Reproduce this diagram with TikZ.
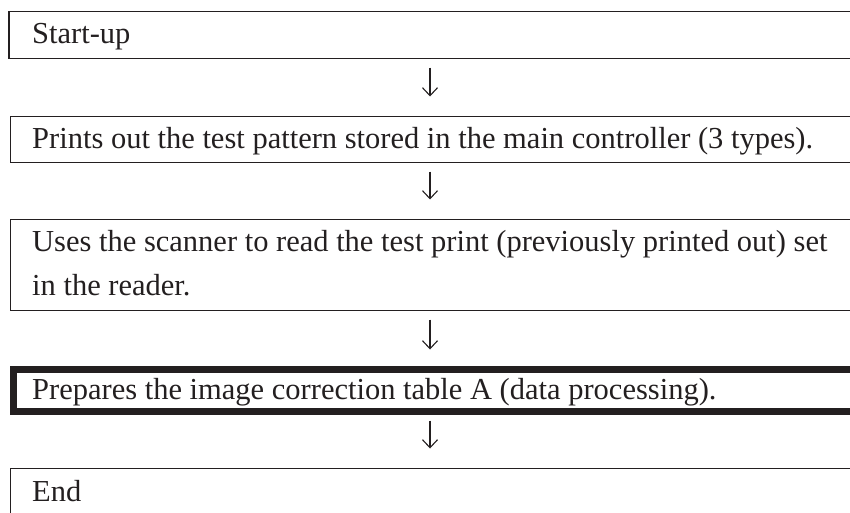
\documentclass[tikz,border=0pt]{standalone}
\usepackage{fontspec}
\setmainfont{Liberation Serif}
\usetikzlibrary{arrows.meta}
\definecolor{ink}{HTML}{231F20}
\begin{document}
\begin{tikzpicture}[x=1pt,y=1pt,
  box/.style={draw=ink, line width=1.3pt, inner sep=0pt, outer sep=0pt, anchor=north west, minimum width=880pt},
  thickbox/.style={box, line width=7pt},
  txt/.style={anchor=base west, inner sep=0pt, text=ink, font=\fontsize{30.5}{44}\selectfont},
  flow/.style={draw=ink, line width=1.1pt, -{Straight Barb[length=8pt,width=15pt]}, shorten <=9pt, shorten >=20pt}]
\useasboundingbox (0,0) rectangle (850,-512);
\clip (0,0) rectangle (850,-512);
\node[box, minimum height=47pt] (b1) at (9,-11.5) {};
\node[box, minimum height=46pt] (b2) at (10.5,-116.5) {};
\node[box, minimum height=91pt] (b3) at (10.5,-219.5) {};
\node[thickbox, minimum height=42pt] (b4) at (13.5,-369.5) {};
\node[box, minimum height=70pt] (b5) at (10.5,-468.5) {};
\node[txt] (t1) at (32,-43.5) {Start-up};
\node[txt] (t2) at (32,-148) {Prints out the test pattern stored in the main controller (3 types).};
\node[txt] (t3) at (32,-251) {Uses the scanner to read the test print (previously printed out) set};
\node[txt] (t3b) at (32,-295) {in the reader.};
\node[txt] (t4) at (32,-399.5) {Prepares the image correction table A (data processing).};
\node[txt] (t5) at (32,-501) {End};
\coordinate (ax) at (430,0);
\draw[flow] (b1.south -| ax) -- (b2.north -| ax);
\draw[flow] (b2.south -| ax) -- (b3.north -| ax);
\draw[flow] (b3.south -| ax) -- (b4.north -| ax);
\draw[flow] (b4.south -| ax) -- (b5.north -| ax);
\end{tikzpicture}
\end{document}
